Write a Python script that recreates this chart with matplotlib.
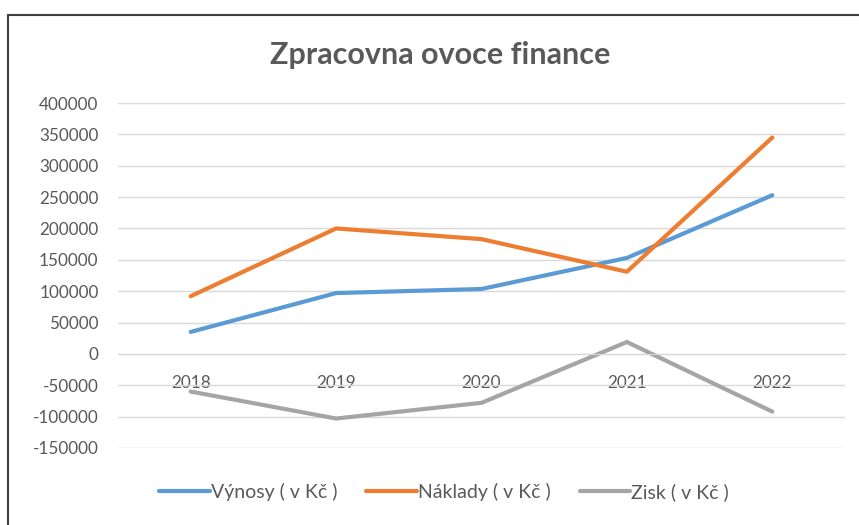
import matplotlib.pyplot as plt
from matplotlib.patches import Rectangle

# data
roky = ["2018", "2019", "2020", "2021", "2022"]
vynosy = [35000, 97000, 103500, 153000, 253000]
naklady = [92000, 200000, 183000, 131000, 345000]
zisk = [-60000, -103000, -78000, 19000, -92000]

plt.rcParams['font.family'] = ['Lato', 'DejaVu Sans']

fig = plt.figure(figsize=(8.59, 5.25), dpi=100)
ax = fig.add_axes([118 / 859, 1 - 448 / 525, 727 / 859, 345 / 525])

x = range(len(roky))
ax.plot(x, vynosy, color='#5B9BD5', linewidth=3, label='Výnosy ( v Kč )', solid_capstyle='round')
ax.plot(x, naklady, color='#ED7D31', linewidth=3, label='Náklady ( v Kč )', solid_capstyle='round')
ax.plot(x, zisk, color='#A5A5A5', linewidth=3, label='Zisk ( v Kč )', solid_capstyle='round')

ax.set_xlim(-0.5, len(roky) - 0.5)
ax.set_ylim(-150000, 400000)
ax.set_yticks(range(-150000, 400001, 50000))
ax.set_yticklabels([str(v) for v in range(-150000, 400001, 50000)])
ax.set_xticks(list(x))
ax.set_xticklabels(roky)

ax.grid(axis='y', color='#D9D9D9', linewidth=1)
ax.set_axisbelow(True)
for s in ['top', 'right', 'left']:
    ax.spines[s].set_visible(False)
ax.spines['bottom'].set_position(('data', 0))
ax.spines['bottom'].set_color('#D9D9D9')
ax.tick_params(axis='both', length=0, labelsize=12.3, labelcolor='#595959')
ax.tick_params(axis='y', pad=14)
ax.tick_params(axis='x', pad=15)

fig.text(0.512, 1 - 55 / 525, 'Zpracovna ovoce finance', ha='center', va='center',
         fontsize=22, color='#595959', fontweight='bold')

fig.legend(loc='center', bbox_to_anchor=(0.517, 1 - 492 / 525), ncol=3, frameon=False,
           fontsize=14, handlelength=2.6, handletextpad=0.05, columnspacing=1.5,
           labelcolor='#595959')

# okraj grafu
fig.patches.append(Rectangle((8 / 859, -0.05), 1.1, 1 - 15 / 525 + 0.05, transform=fig.transFigure,
                             fill=False, edgecolor='#404040', linewidth=1.5))

fig.savefig('out.png', dpi=100)
